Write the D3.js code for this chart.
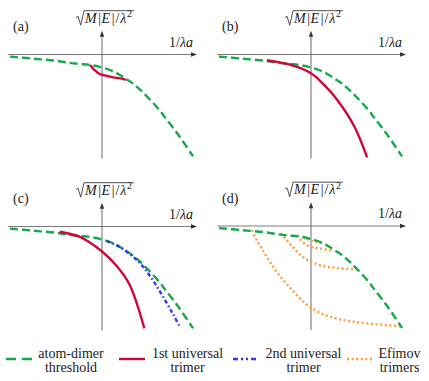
<!DOCTYPE html>
<html>
<head>
<meta charset="utf-8">
<script src="https://cdn.jsdelivr.net/npm/d3@7"></script>
<style>
    body { margin: 0; background: #fff; }
    svg { display: block; }
</style>
</head>
<body>
<div id="chart"></div>
<script>
// curves in axis units: x = 1/λa (axis spans -1..1), y = -sqrt(M|E|/λ²) (axis bottom = -1)
const panelLabels = ["(a)", "(b)", "(c)", "(d)"];

const threshold = [
    [-1, -0.02], [-0.75, -0.04], [-0.5, -0.06], [-0.35, -0.08], [-0.25, -0.09],
    [-0.13, -0.1], [0, -0.125], [0.13, -0.165], [0.2, -0.2], [0.27, -0.24],
    [0.33, -0.275], [0.41, -0.335], [0.49, -0.405], [0.63, -0.54], [0.68, -0.6],
    [0.82, -0.76], [0.99, -0.98]
];

const firstTrimerA = [
    [-0.13, -0.1], [-0.08, -0.15], [-0.02, -0.19], [0.03, -0.2],
    [0.12, -0.22], [0.2, -0.23], [0.26, -0.245]
];

const firstTrimerB = [
    [-0.48, -0.055], [-0.22, -0.1], [0, -0.18], [0.14, -0.29],
    [0.28, -0.43], [0.47, -0.69], [0.61, -0.99]
];

const firstTrimerC = [
    [-0.46, -0.05], [-0.24, -0.1], [0, -0.24], [0.16, -0.38],
    [0.3, -0.56], [0.46, -0.98]
];

const secondTrimer = [
    [0.05, -0.14], [0.2, -0.2], [0.41, -0.35], [0.54, -0.5],
    [0.66, -0.67], [0.77, -0.84], [0.85, -0.97]
];

const efimov1 = [
    [-0.64, -0.04], [-0.6, -0.12], [-0.54, -0.21], [-0.45, -0.34], [-0.33, -0.49],
    [-0.2, -0.62], [-0.08, -0.73], [0, -0.785], [0.12, -0.845], [0.3, -0.895],
    [0.55, -0.93], [0.98, -0.965]
];
const efimov2 = [
    [-0.33, -0.07], [-0.27, -0.13], [-0.19, -0.21], [-0.1, -0.29], [0, -0.345],
    [0.11, -0.38], [0.28, -0.405], [0.49, -0.415]
];
const efimov3 = [[-0.15, -0.09], [-0.07, -0.17], [0, -0.2], [0.11, -0.22], [0.24, -0.235]];
const efimov4 = [[-0.09, -0.1], [0, -0.14], [0.07, -0.155], [0.13, -0.165]];

const legendLines = [["atom-dimer", "threshold"], ["1st universal", "trimer"], ["2nd universal", "trimer"], ["Efimov", "trimers"]];

const FONT = "\"Liberation Serif\", \"DejaVu Serif\", serif";

const styles = {
    threshold: { stroke: "#16a84a", width: 2.4, dash: "8,4" },
    first: { stroke: "#d0073b", width: 2.4, dash: null },
    second: { stroke: "#3535f0", width: 2.4, dash: "4,2.5,1.6,2.5" },
    efimov: { stroke: "#ff9f3d", width: 2.5, dash: "2,2.6" }
};

const panels = [
    { ox: 102, oy: 54.5, curves: [["threshold", threshold], ["first", firstTrimerA]] },
    { ox: 311, oy: 54.5, curves: [["threshold", threshold], ["first", firstTrimerB]] },
    { ox: 102, oy: 226.5, curves: [["threshold", threshold], ["first", firstTrimerC], ["second", secondTrimer]] },
    { ox: 311, oy: 226, curves: [["efimov", efimov1], ["efimov", efimov2], ["efimov", efimov3], ["efimov", efimov4], ["threshold", threshold]] }
];

const svg = d3.select("#chart").append("svg")
    .attr("width", 429)
    .attr("height", 381);

function addText(sel) {
    return sel.append("text")
        .style("font-family", FONT)
        .style("font-size", "14px")
        .attr("fill", "#222");
}

function drawYLabel(g, cx, by) {
    const t = addText(g).attr("y", by);
    t.append("tspan").style("font-style", "italic").text("M");
    t.append("tspan").attr("dx", 1.5).text("|");
    t.append("tspan").attr("dx", 0.5).style("font-style", "italic").text("E");
    t.append("tspan").attr("dx", 1.5).text("|");
    t.append("tspan").attr("dx", 1).text("/");
    t.append("tspan").attr("dx", 1).style("font-style", "italic").text("λ");
    t.append("tspan").attr("dx", 0.5).attr("dy", -5.5).style("font-size", "10px").text("2");
    const w = t.node().getBBox().width;
    const x0 = cx - (w + 9) / 2;
    t.attr("x", x0 + 9);
    g.append("path")
        .attr("d", `M${x0},${by - 5} L${x0 + 2},${by - 6.2} L${x0 + 4.6},${by + 2.6} L${x0 + 8},${by - 11.8} H${x0 + 9 + w + 1}`)
        .attr("fill", "none")
        .attr("stroke", "#222")
        .attr("stroke-width", 0.8);
}

panels.forEach((p, i) => {
    const x = d3.scaleLinear().domain([-1, 1]).range([p.ox - 92, p.ox + 92]);
    const y = d3.scaleLinear().domain([0, -1]).range([p.oy, p.oy + 104]);
    const g = svg.append("g");

    // axes
    g.append("line")
        .attr("x1", x(-1.02)).attr("x2", x(1.0))
        .attr("y1", y(0)).attr("y2", y(0))
        .attr("stroke", "#7a7a7a").attr("stroke-width", 1);
    g.append("path")
        .attr("d", `M${x(1.0) + 3},${y(0)} l-6,-2.2 l0,4.4 Z`)
        .attr("fill", "#333");
    g.append("line")
        .attr("x1", x(0)).attr("x2", x(0))
        .attr("y1", y(-1.0)).attr("y2", y(0.2))
        .attr("stroke", "#6a6a6a").attr("stroke-width", 1);
    g.append("path")
        .attr("d", `M${x(0)},${y(0.2) - 3} l-2.2,6 l4.4,0 Z`)
        .attr("fill", "#333");

    const line = d3.line()
        .x(d => x(d[0]))
        .y(d => y(d[1]))
        .curve(d3.curveCatmullRom.alpha(0.5));

    p.curves.forEach(([kind, data]) => {
        const s = styles[kind];
        g.append("path")
            .datum(data)
            .attr("d", line)
            .attr("fill", "none")
            .attr("stroke", s.stroke)
            .attr("stroke-width", s.width)
            .attr("stroke-dasharray", s.dash);
    });

    // labels
    addText(g)
        .attr("x", p.ox - 89)
        .attr("y", p.oy - 23.5)
        .text(panelLabels[i]);

    drawYLabel(g, p.ox + 2.5, p.oy - 32);

    const xl = addText(g)
        .attr("x", p.ox + 91)
        .attr("y", p.oy - 8)
        .attr("text-anchor", "end");
    xl.append("tspan").text("1/");
    xl.append("tspan").style("font-style", "italic").text("λa");
});

// legend
const legendX = [6, 119, 233, 347];
const legendTextX = [71, 187.5, 303.5, 399.5];
const legendKinds = ["threshold", "first", "second", "efimov"];
legendKinds.forEach((k, i) => {
    const s = styles[k];
    svg.append("line")
        .attr("x1", legendX[i]).attr("x2", legendX[i] + 26)
        .attr("y1", 359).attr("y2", 359)
        .attr("stroke", s.stroke)
        .attr("stroke-width", s.width)
        .attr("stroke-dasharray", k === "threshold" ? "10,6" : (k === "second" ? "5,3,2,3,2,3" : s.dash));
    legendLines[i].forEach((txt, j) => {
        addText(svg)
            .attr("x", legendTextX[i])
            .attr("y", 357.5 + j * 14)
            .attr("text-anchor", "middle")
            .text(txt);
    });
});
</script>
</body>
</html>
